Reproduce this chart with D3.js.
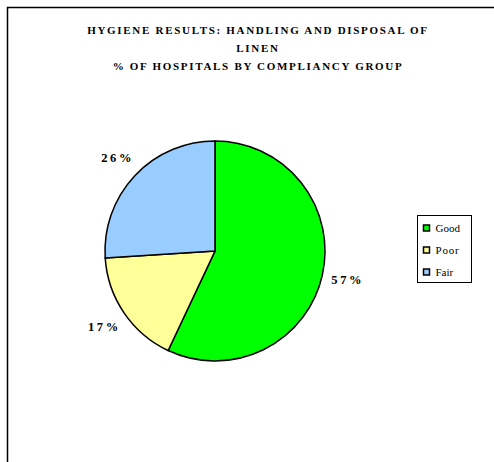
<!DOCTYPE html>
<html><head><meta charset="utf-8">
<script src="https://cdn.jsdelivr.net/npm/d3@7"></script>
<style>body{margin:0;background:#fff}svg{display:block}
.ser{font-family:"Liberation Serif","Times New Roman",serif}</style>
</head><body>
<script>
const titleLines = ["HYGIENE RESULTS: HANDLING AND DISPOSAL OF", "LINEN", "% OF HOSPITALS BY COMPLIANCY GROUP"];
const categories = ["Good", "Poor", "Fair"];
const values = [57, 17, 26];
const colors = ["#00ff00", "#ffff99", "#99ccff"];

const W = 494, H = 462;
const svg = d3.select("body").append("svg").attr("width", W).attr("height", H);
svg.append("rect").attr("width", W).attr("height", H).attr("fill", "#fff");
svg.append("path").attr("d", `M7.5,${H+5} V7.5 H${W+5}`).attr("fill", "none").attr("stroke", "#000").attr("stroke-width", 1.5);

const title = svg.append("text").attr("class", "ser").attr("text-anchor", "middle")
  .attr("font-weight", "bold").attr("font-size", 11).attr("letter-spacing", 1.7).attr("fill", "#000");
titleLines.forEach((t, i) => title.append("tspan").attr("x", 258).attr("y", 34 + i * 18).text(t));

const cx = 215, cy = 251, r = 110;
const pie = d3.pie().sort(null).value(d => d)(values);
const arc = d3.arc().innerRadius(0).outerRadius(r);
const g = svg.append("g").attr("transform", `translate(${cx},${cy})`);
g.selectAll("path").data(pie).join("path").attr("d", arc)
  .attr("fill", (d, i) => colors[i]).attr("stroke", "#000").attr("stroke-width", 1.5);

const labelArc = d3.arc().innerRadius(r + 25).outerRadius(r + 25);
g.selectAll("text.lbl").data(pie).join("text").attr("class", "lbl ser")
  .attr("transform", d => {
    const [x, y] = labelArc.centroid(d);
    return `translate(${x + 1},${y})`;
  })
  .attr("text-anchor", "middle").attr("dy", "0.3em")
  .attr("font-weight", "bold").attr("font-size", 12.5).attr("letter-spacing", 2.6)
  .text(d => d3.format(".0f")(d.data) + "%");

const lg = svg.append("g").attr("transform", "translate(417.5,215.5)");
lg.append("rect").attr("width", 54).attr("height", 67).attr("fill", "#fff").attr("stroke", "#000").attr("stroke-width", 1);
categories.forEach((c, i) => {
  const y = 13 + i * 22;
  lg.append("rect").attr("x", 6).attr("y", y - 3.5).attr("width", 6).attr("height", 6)
    .attr("fill", colors[i]).attr("stroke", "#000").attr("stroke-width", 1.5);
  lg.append("text").attr("class", "ser").attr("x", 18).attr("y", y).attr("dy", "0.35em")
    .attr("font-size", 11).attr("letter-spacing", c === "Poor" ? 0.8 : 0).text(c);
});
</script>
</body></html>
